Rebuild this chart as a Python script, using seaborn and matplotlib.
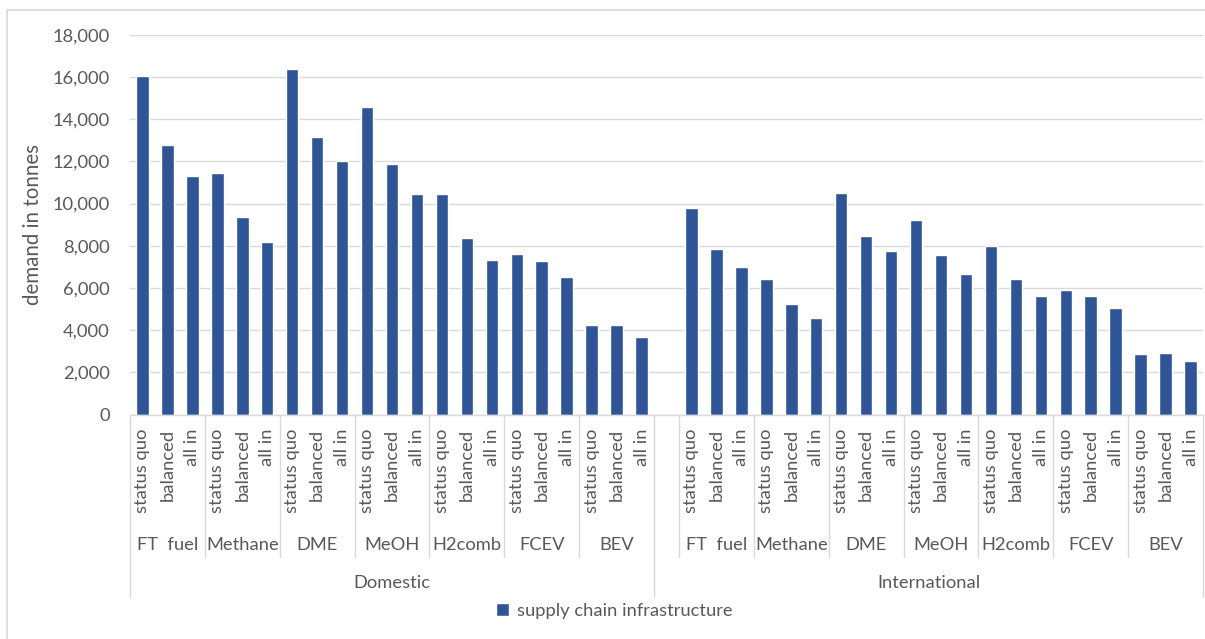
import matplotlib
matplotlib.use("Agg")
import matplotlib.pyplot as plt
from matplotlib.lines import Line2D
from matplotlib.ticker import FuncFormatter
import seaborn as sns
import pandas as pd

# ---- data -------------------------------------------------------------
regions = ["Domestic", "International"]
fuels = ["FT  fuel", "Methane", "DME", "MeOH", "H2comb", "FCEV", "BEV"]
scenarios = ["status quo", "balanced", "all in"]
series_name = "supply chain infrastructure"

domestic = [16050, 12780, 11320,
            11430, 9360, 8160,
            16360, 13150, 12000,
            14590, 11850, 10450,
            10450, 8370, 7330,
            7590, 7270, 6540,
            4220, 4220, 3680]
international = [9810, 7840, 7000,
                 6400, 5250, 4580,
                 10490, 8470, 7740,
                 9200, 7540, 6650,
                 8000, 6400, 5610,
                 5880, 5610, 5040,
                 2860, 2920, 2540]

# ---- styling ----------------------------------------------------------
W, H = 1205, 639
BAR = "#2F5597"
TXT = "#595959"
GRID = "#D9D9D9"
FS = 13.2

sns.set_theme(style="white")
plt.rcParams["font.family"] = ["Lato", "DejaVu Sans"]
plt.rcParams["text.color"] = TXT

# ---- long table with one empty slot opening the International block ----
rows, order, slot_info = [], [], []
for region, values in zip(regions, [domestic, international]):
    if region == "International":
        gap = f"{region}|gap"
        order.append(gap)
        slot_info.append((region, None, None))
    i = 0
    for fuel in fuels:
        for sc in scenarios:
            key = f"{region}|{fuel}|{sc}"
            order.append(key)
            slot_info.append((region, fuel, sc))
            rows.append({"slot": key, "demand": values[i], "series": series_name})
            i += 1
df = pd.DataFrame(rows)

fig = plt.figure(figsize=(W / 100, H / 100), dpi=100)
ax_left, ax_right, ax_top, ax_bottom = 130, 1203, 34.7, 414.5
ax = fig.add_axes([ax_left / W, 1 - ax_bottom / H,
                   (ax_right - ax_left) / W, (ax_bottom - ax_top) / H])

sns.barplot(data=df, x="slot", y="demand", hue="series", order=order,
            palette=[BAR], width=0.5, dodge=False, ax=ax, saturation=1,
            errorbar=None)

ax.set_xlim(-0.5, len(order) - 0.5)
ax.set_ylim(0, 18000)
ax.set_yticks(range(0, 18001, 2000))
ax.yaxis.set_major_formatter(FuncFormatter(lambda v, p: f"{int(v):,}"))
ax.tick_params(axis="y", length=0, pad=14.4, labelsize=FS, labelcolor=TXT)
ax.set_xticks([])
ax.set_xlabel("")
ax.set_ylabel("")
ax.grid(axis="y", color=GRID, linewidth=1.0)
ax.set_axisbelow(True)
for s in ["top", "right", "left"]:
    ax.spines[s].set_visible(False)
ax.spines["bottom"].set_color(GRID)
ax.spines["bottom"].set_linewidth(1.0)

# y axis title
fig.text(33 / W, 1 - (ax_top + ax_bottom) / 2 / H, "demand in tonnes",
         rotation=90, ha="center", va="center", fontsize=14.8, color=TXT)

# ---- multi-level category axis ----------------------------------------
def fy(py):
    return 1 - py / H

trans = matplotlib.transforms.blended_transform_factory(ax.transData, fig.transFigure)

def vline(x, y_end):
    ax.add_line(Line2D([x, x], [fy(ax_bottom), fy(y_end)], transform=trans,
                       color=GRID, linewidth=1.0, clip_on=False))

# scenario labels (rotated)
for idx, (region, fuel, sc) in enumerate(slot_info):
    if sc is not None:
        ax.text(idx, fy(429), sc, transform=trans, rotation=90,
                ha="center", va="top", fontsize=FS, color=TXT)

# fuel group labels and dividers
idx = 0
for region in regions:
    start = idx
    if region == "International":
        idx += 1
        vline(idx - 0.5, 557)
    for fuel in fuels:
        ax.text(idx + 1, fy(545), fuel, transform=trans, ha="center",
                va="center", fontsize=FS, color=TXT)
        if fuel != fuels[0]:
            vline(idx - 0.5, 557)
        idx += 3
    ax.text((start + idx - 1) / 2, fy(583), region, transform=trans,
            ha="center", va="center", fontsize=FS, color=TXT)
    vline(start - 0.5, 597)
vline(idx - 0.5, 597)

# legend
sns.move_legend(ax, "center", bbox_to_anchor=(614 / W, fy(611)),
                bbox_transform=fig.transFigure, frameon=False, title=None,
                fontsize=FS, handlelength=0.75, handleheight=0.75,
                handletextpad=0.4, borderpad=0)
for t in ax.get_legend().get_texts():
    t.set_color(TXT)

# chart area border (top and left edges visible)
fig.add_artist(Line2D([7 / W, 1], [fy(10), fy(10)], transform=fig.transFigure,
                      color=GRID, linewidth=1.2))
fig.add_artist(Line2D([7 / W, 7 / W], [fy(10), 0], transform=fig.transFigure,
                      color=GRID, linewidth=1.2))

fig.savefig("out.png", dpi=100, facecolor="white")
